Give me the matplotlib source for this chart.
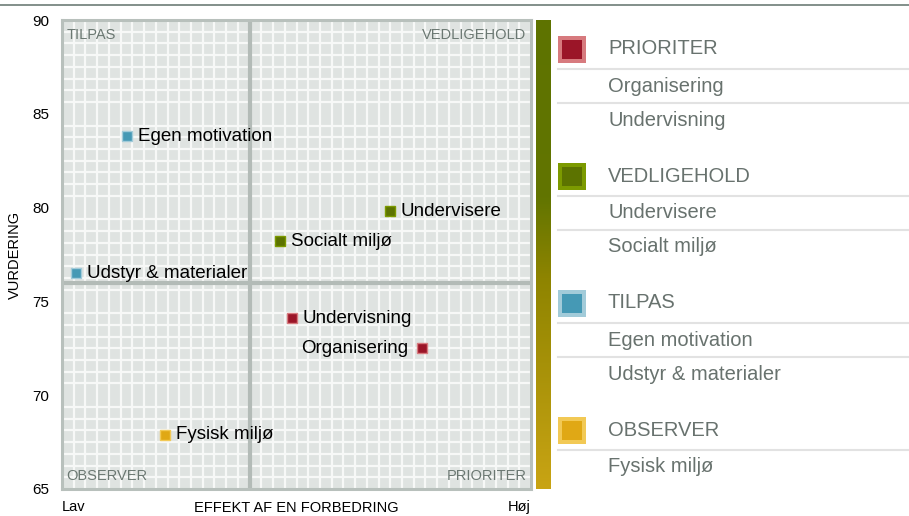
import numpy as np
import matplotlib
matplotlib.use("Agg")
import matplotlib.pyplot as plt
from matplotlib.colors import LinearSegmentedColormap
from matplotlib.patches import Rectangle
from matplotlib.ticker import MultipleLocator

plt.rcParams["font.family"] = ["Liberation Sans", "DejaVu Sans"]

# Data (x: effekt 0-100, y: vurdering)
labels = ["Egen motivation", "Udstyr & materialer", "Undervisere", "Socialt miljø",
          "Undervisning", "Organisering", "Fysisk miljø"]
effekt = [13.9, 3.0, 69.9, 46.5, 49.0, 76.8, 22.0]
vurdering = [83.8, 76.5, 79.8, 78.2, 74.1, 72.5, 67.9]
gruppe = ["TILPAS", "TILPAS", "VEDLIGEHOLD", "VEDLIGEHOLD",
          "PRIORITER", "PRIORITER", "OBSERVER"]

grupper = ["PRIORITER", "VEDLIGEHOLD", "TILPAS", "OBSERVER"]
grp_items = {
    "PRIORITER": ["Organisering", "Undervisning"],
    "VEDLIGEHOLD": ["Undervisere", "Socialt miljø"],
    "TILPAS": ["Egen motivation", "Udstyr & materialer"],
    "OBSERVER": ["Fysisk miljø"],
}
farve = {"PRIORITER": "#9b1528", "VEDLIGEHOLD": "#5c7300",
         "TILPAS": "#4599b5", "OBSERVER": "#e0a815"}
kant = {"PRIORITER": "#d77a7e", "VEDLIGEHOLD": "#7c9a00",
        "TILPAS": "#a2cbd9", "OBSERVER": "#f2c955"}

x_mid, y_mid = 40, 76
yticks = [65, 70, 75, 80, 85, 90]

W, H = 909, 516
fig = plt.figure(figsize=(W / 100, H / 100), dpi=100)

# top rule
fig.add_artist(plt.Line2D([0, 1], [1 - 5 / H, 1 - 5 / H], color="#6d7d77", lw=1.2))

ax = fig.add_axes([62 / W, 27 / H, 469 / W, 469 / H])
ax.set_facecolor("#dfe3e1")
ax.set_xlim(0, 100)
ax.set_ylim(65, 90)
ax.set_xticks([])
ax.set_yticks(yticks)
ax.xaxis.set_minor_locator(MultipleLocator(2.5))
ax.yaxis.set_minor_locator(MultipleLocator(0.625))
ax.grid(which="minor", color="#f7f8f7", lw=1.6)
ax.set_axisbelow(True)
ax.tick_params(which="both", length=0)
ax.tick_params(axis="y", labelsize=11, pad=9)
for s in ax.spines.values():
    s.set_color("#b8c0bc")
    s.set_linewidth(2.2)

ax.axvline(x_mid, color="#b3bbb7", lw=3, zorder=2)
ax.axhline(y_mid, color="#b3bbb7", lw=3, zorder=2)

qc = "#6b7872"
ax.text(1, 89.6, "TILPAS", color=qc, fontsize=10.5, va="top", ha="left")
ax.text(99, 89.6, "VEDLIGEHOLD", color=qc, fontsize=10.5, va="top", ha="right")
ax.text(1, 65.3, "OBSERVER", color=qc, fontsize=10.5, va="bottom", ha="left")
ax.text(99, 65.3, "PRIORITER", color=qc, fontsize=10.5, va="bottom", ha="right")

for lab, x, y, g in zip(labels, effekt, vurdering, gruppe):
    ax.plot(x, y, marker="s", ms=7.5, mfc=farve[g], mec=kant[g], mew=1, zorder=4)
    if lab == "Organisering":
        ax.annotate(lab, (x, y), xytext=(-10, 0), textcoords="offset points",
                    ha="right", va="center", fontsize=13.5, zorder=5)
    else:
        ax.annotate(lab, (x, y), xytext=(8, 0), textcoords="offset points",
                    ha="left", va="center", fontsize=13.5, zorder=5)

ax.set_ylabel("VURDERING", fontsize=10.5)
ax.yaxis.set_label_coords(-40 / 469, 0.5)
fig.text(296 / W, 1 - 508 / H, "EFFEKT AF EN FORBEDRING", ha="center", va="center", fontsize=10.5)
fig.text(62 / W, 1 - 507 / H, "Lav", ha="left", va="center", fontsize=10.5)
fig.text(531 / W, 1 - 507 / H, "Høj", ha="right", va="center", fontsize=10.5)

# colour bar
cax = fig.add_axes([536 / W, 27 / H, 15 / W, 469 / H])
cmap = LinearSegmentedColormap.from_list(
    "vg", [(0, "#c9a414"), (0.45, "#8e8400"), (0.62, "#627500"), (1, "#5e7300")])
cax.imshow(np.linspace(0, 1, 256).reshape(-1, 1), cmap=cmap, aspect="auto", origin="lower")
cax.axis("off")

# legend
lax = fig.add_axes([555 / W, 0, 354 / W, 1])
lax.set_xlim(555, 909)
lax.set_ylim(516, 0)
lax.axis("off")
tc = "#68726e"
y = 49
for g in grupper:
    lax.add_patch(Rectangle((558, y - 13.5), 28, 27, facecolor=kant[g], edgecolor="none"))
    lax.add_patch(Rectangle((562, y - 9.5), 20, 19, facecolor=farve[g], edgecolor="none"))
    lax.text(608, y, g, color=tc, fontsize=14.5, va="center", ha="left")
    lax.plot([558, 909], [y + 20, y + 20], color="#e2e2e2", lw=1.5)
    yy = y + 37
    items = grp_items[g]
    for i, it in enumerate(items):
        lax.text(608, yy, it, color=tc, fontsize=14.5, va="center", ha="left")
        if i < len(items) - 1:
            lax.plot([558, 909], [yy + 17, yy + 17], color="#e2e2e2", lw=1.5)
        yy += 34
    y += 127

fig.savefig("out.png", dpi=100)
